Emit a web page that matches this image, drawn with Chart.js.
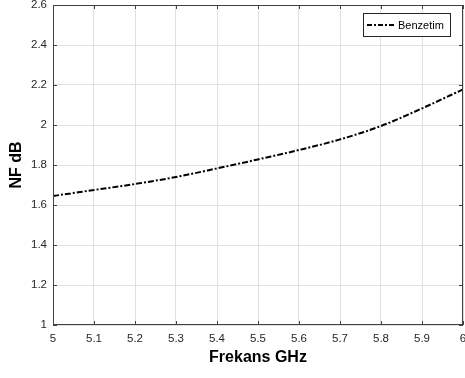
<!DOCTYPE html>
<html>
<head>
<meta charset="utf-8">
<script src="https://cdn.jsdelivr.net/npm/chart.js@4/dist/chart.umd.min.js"></script>
<style>
  html, body { margin: 0; padding: 0; background: #fff; }
  #wrap { width: 465px; height: 378px; }
</style>
</head>
<body>
<div id="wrap"><canvas id="c" width="465" height="378"></canvas></div>
<script>
// frekans (GHz) ve NF (dB) degerleri
const freqs = [5.0, 5.1, 5.2, 5.3, 5.4, 5.5, 5.6, 5.7, 5.8, 5.9, 6.0];
const nfValues = [1.645, 1.675, 1.705, 1.74, 1.783, 1.828, 1.875, 1.928, 1.995, 2.083, 2.178];
const seriesLabel = "Benzetim";
const xTitle = "Frekans GHz";
const yTitle = "NF dB";

const fmt = v => String(+Number(v).toFixed(1));

// kutu, iceri dogru tick'ler ve legend
const boxPlugin = {
  id: "box",
  afterDraw(chart) {
    const { ctx, chartArea: a, scales } = chart;
    ctx.save();
    ctx.strokeStyle = "#404040";
    ctx.lineWidth = 1;
    ctx.strokeRect(a.left + 0.5, a.top + 0.5, a.right - a.left - 1, a.bottom - a.top - 1);
    ctx.beginPath();
    scales.x.ticks.forEach(t => {
      const x = Math.round(scales.x.getPixelForValue(t.value)) + 0.5;
      ctx.moveTo(x, a.bottom); ctx.lineTo(x, a.bottom - 4);
      ctx.moveTo(x, a.top); ctx.lineTo(x, a.top + 4);
    });
    scales.y.ticks.forEach(t => {
      const y = Math.round(scales.y.getPixelForValue(t.value)) + 0.5;
      ctx.moveTo(a.left, y); ctx.lineTo(a.left + 4, y);
      ctx.moveTo(a.right, y); ctx.lineTo(a.right - 4, y);
    });
    ctx.stroke();

    // legend
    const lx = 363, ly = 13, lw = 87, lh = 23;
    ctx.fillStyle = "#fff";
    ctx.fillRect(lx, ly, lw, lh);
    ctx.strokeStyle = "#262626";
    ctx.strokeRect(lx + 0.5, ly + 0.5, lw, lh);
    ctx.strokeStyle = "#000";
    ctx.lineWidth = 2;
    ctx.setLineDash([5, 2, 2, 2]);
    ctx.beginPath();
    ctx.moveTo(lx + 4, ly + lh / 2 + 0.5);
    ctx.lineTo(lx + 33, ly + lh / 2 + 0.5);
    ctx.stroke();
    ctx.setLineDash([]);
    ctx.fillStyle = "#000";
    ctx.font = "11px 'Liberation Sans', Arial, sans-serif";
    ctx.textBaseline = "middle";
    ctx.fillText(seriesLabel, lx + 35, ly + lh / 2 + 1);
    ctx.restore();
  }
};

const ctx = document.getElementById("c").getContext("2d");
new Chart(ctx, {
  type: "line",
  data: {
    datasets: [{
      label: seriesLabel,
      data: freqs.map((f, i) => ({ x: f, y: nfValues[i] })),
      borderColor: "#000",
      borderWidth: 2,
      borderDash: [6, 2, 2, 2],
      pointRadius: 0,
      cubicInterpolationMode: "monotone",
      fill: false
    }]
  },
  options: {
    responsive: false,
    animation: false,
    layout: { autoPadding: false, padding: { top: 5, right: 2, left: 0, bottom: 0 } },
    plugins: { legend: { display: false }, tooltip: { enabled: false } },
    scales: {
      x: {
        type: "linear",
        min: 5, max: 6,
        afterFit: s => { s.height = 53; s.paddingLeft = 0; s.paddingRight = 0; },
        grid: { color: "#e0e0e0", drawTicks: false },
        border: { display: false },
        ticks: {
          stepSize: 0.1, padding: 7, color: "#262626",
          font: { family: "'Liberation Sans', Arial, sans-serif", size: 11.5 },
          callback: fmt
        },
        title: {
          display: true, text: xTitle, color: "#000", padding: { top: 0, bottom: 11 },
          font: { family: "'Liberation Sans', Arial, sans-serif", size: 16, weight: "bold" }
        }
      },
      y: {
        min: 1, max: 2.6,
        afterFit: s => { s.width = 53; s.paddingTop = 0; s.paddingBottom = 0; },
        grid: { color: "#e0e0e0", drawTicks: false },
        border: { display: false },
        ticks: {
          stepSize: 0.2, padding: 6, color: "#262626",
          font: { family: "'Liberation Sans', Arial, sans-serif", size: 11.5 },
          callback: fmt
        },
        title: {
          display: true, text: yTitle, color: "#000", padding: { top: 7, bottom: 0 },
          font: { family: "'Liberation Sans', Arial, sans-serif", size: 16, weight: "bold" }
        }
      }
    }
  },
  plugins: [boxPlugin]
});
</script>
</body>
</html>
